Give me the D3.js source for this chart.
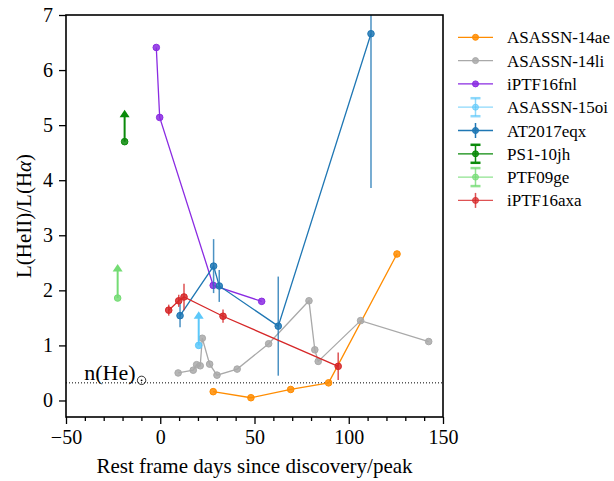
<!DOCTYPE html>
<html>
<head>
<meta charset="utf-8">
<script src="https://cdn.jsdelivr.net/npm/d3@7"></script>
<style>
  body { margin: 0; background: #fff; }
  svg { display: block; }
  svg text { font-family: "Liberation Serif", "DejaVu Serif", serif; }
</style>
</head>
<body>
<div id="figure"></div>
<script>
'use strict';

// ---- data ----
const names = ['ASASSN-14ae', 'ASASSN-14li', 'iPTF16fnl', 'ASASSN-15oi', 'AT2017eqx', 'PS1-10jh', 'PTF09ge', 'iPTF16axa'];
const colors = ['#ff8c00', '#a9a9a9', '#8a2be2', '#5cc8fa', '#1f77b4', '#0a8a0a', '#74dc74', '#d62728'];

const days14ae = [28.1, 48.1, 69.2, 89.3, 125.6];
const ratio14ae = [0.16, 0.05, 0.20, 0.32, 2.66];

const days14li = [9.5, 17.5, 19.3, 21.2, 22.3, 26.2, 30.1, 40.8, 57.5, 78.9, 82.0, 83.8, 106.3, 142.4];
const ratio14li = [0.50, 0.55, 0.65, 0.63, 1.13, 0.66, 0.46, 0.57, 1.03, 1.81, 0.92, 0.71, 1.45, 1.07];

const days16fnl = [-2.1, -0.3, 28.1, 53.8];
const ratio16fnl = [6.41, 5.14, 2.09, 1.80];

const days15oi = [20.4];
const ratio15oi = [1.00];
const limit15oi = [1.62];

const daysEqx = [10.5, 28.3, 31.3, 62.6, 111.8];
const ratioEqx = [1.54, 2.44, 2.08, 1.35, 6.66];
const errEqx = [0.21, 0.49, 0.29, 0.90, 2.80];

const days10jh = [-18.9];
const ratio10jh = [4.70];
const limit10jh = [5.28];

const days09ge = [-22.6];
const ratio09ge = [1.86];
const limit09ge = [2.48];

const days16axa = [4.5, 9.8, 12.6, 33.3, 94.4];
const ratio16axa = [1.64, 1.81, 1.88, 1.53, 0.62];
const err16axa = [0.10, 0.11, 0.24, 0.12, 0.25];

const nHe = 0.32;
const xTicks = [-50, 0, 50, 100, 150];
const yTicks = [0, 1, 2, 3, 4, 5, 6, 7];

const series = [
  { days: days14ae, ratio: ratio14ae, line: true },
  { days: days14li, ratio: ratio14li, line: true },
  { days: days16fnl, ratio: ratio16fnl, line: true },
  { days: days15oi, ratio: ratio15oi, limit: limit15oi, legendErr: 'cap', legendAlpha: 0.7 },
  { days: daysEqx, ratio: ratioEqx, err: errEqx, line: true, legendErr: 'bar' },
  { days: days10jh, ratio: ratio10jh, limit: limit10jh, legendErr: 'cap' },
  { days: days09ge, ratio: ratio09ge, limit: limit09ge, legendErr: 'cap', legendAlpha: 0.8 },
  { days: days16axa, ratio: ratio16axa, err: err16axa, line: true, legendErr: 'bar', legendAlpha: 0.8 },
].map((s, i) => ({ ...s, name: names[i], color: colors[i] }));

// ---- layout ----
const width = 614, height = 481;
const margin = { left: 66, right: 171, top: 15, bottom: 64 };
const serif = '"Liberation Serif", "DejaVu Serif", serif';

const x = d3.scaleLinear().domain([-50, 150]).range([margin.left, width - margin.right]);
const y = d3.scaleLinear().domain([-0.3, 7]).range([height - margin.bottom, margin.top]);

const svg = d3.select('#figure').append('svg')
  .attr('width', width)
  .attr('height', height)
  .attr('viewBox', [0, 0, width, height]);

svg.append('defs').append('clipPath').attr('id', 'clip')
  .append('rect')
  .attr('x', margin.left).attr('y', margin.top)
  .attr('width', x.range()[1] - margin.left)
  .attr('height', y.range()[0] - margin.top);

const plot = svg.append('g').attr('clip-path', 'url(#clip)');

// n(He) reference line
plot.append('line')
  .attr('x1', x.range()[0]).attr('x2', x.range()[1])
  .attr('y1', y(nHe)).attr('y2', y(nHe))
  .attr('stroke', '#000').attr('stroke-width', 1)
  .attr('stroke-dasharray', '1,2');

svg.append('text')
  .attr('x', x(-40.3))
  .attr('y', y(nHe) - 2.5)
  .attr('font-family', serif)
  .attr('font-size', 22)
  .text('n(He)');
// solar symbol as a subscript
const sun = svg.append('g').attr('transform', `translate(${x(-9.9)}, ${y(nHe) - 2.5})`);
sun.append('circle').attr('r', 4.2).attr('fill', 'none').attr('stroke', '#000').attr('stroke-width', 0.8);
sun.append('circle').attr('r', 0.9).attr('fill', '#000');

const line = d3.line().x(d => x(d[0])).y(d => y(d[1]));

for (const s of series) {
  const pts = d3.zip(s.days, s.ratio);
  const g = plot.append('g');

  if (s.line) {
    g.append('path')
      .datum(pts)
      .attr('fill', 'none')
      .attr('stroke', s.color)
      .attr('stroke-width', 1.3)
      .attr('d', line);
  }

  if (s.err) {
    g.selectAll('line.err')
      .data(d3.zip(s.days, s.ratio, s.err))
      .join('line')
      .attr('x1', d => x(d[0])).attr('x2', d => x(d[0]))
      .attr('y1', d => y(d[1] - d[2])).attr('y2', d => y(d[1] + d[2]))
      .attr('stroke', s.color)
      .attr('stroke-opacity', 0.8)
      .attr('stroke-width', 1.5);
  }

  if (s.limit) {
    const lim = d3.zip(s.days, s.ratio, s.limit);
    g.selectAll('line.lim')
      .data(lim)
      .join('line')
      .attr('x1', d => x(d[0])).attr('x2', d => x(d[0]))
      .attr('y1', d => y(d[1])).attr('y2', d => y(d[2]) + 6)
      .attr('stroke', s.color)
      .attr('stroke-width', 2);
    g.selectAll('path.head')
      .data(lim)
      .join('path')
      .attr('d', d => {
        const cx = x(d[0]), ty = y(d[2]);
        return `M${cx},${ty} L${cx - 5},${ty + 7.5} L${cx + 5},${ty + 7.5} Z`;
      })
      .attr('fill', s.color);
  }

  g.selectAll('circle')
    .data(pts)
    .join('circle')
    .attr('cx', d => x(d[0]))
    .attr('cy', d => y(d[1]))
    .attr('r', 3.3)
    .attr('fill', s.color)
    .attr('fill-opacity', 0.85)
    .attr('stroke', s.color)
    .attr('stroke-width', 1);
}

// ---- axes ----
svg.append('g')
  .attr('transform', `translate(0, ${y.range()[0]})`)
  .call(d3.axisBottom(x).tickValues(xTicks).tickSize(7).tickPadding(6)
    .tickFormat(d => d < 0 ? '\u2212' + Math.abs(d) : d));
svg.append('g')
  .attr('transform', `translate(0, ${y.range()[0]})`)
  .call(d3.axisBottom(x).tickValues(d3.range(-50, 151, 10).filter(v => v % 50 !== 0)).tickSize(4).tickFormat(''));

svg.append('g')
  .attr('transform', `translate(${x.range()[0]}, 0)`)
  .call(d3.axisLeft(y).tickValues(yTicks).tickSize(7).tickPadding(6));

svg.selectAll('.tick text')
  .attr('font-family', serif)
  .attr('font-size', 20)
  .attr('fill', '#000');
svg.selectAll('.tick line').attr('stroke', '#000').attr('stroke-width', 1.3);
svg.selectAll('.domain').remove();

// frame
svg.append('rect')
  .attr('x', x.range()[0]).attr('y', y.range()[1])
  .attr('width', x.range()[1] - x.range()[0])
  .attr('height', y.range()[0] - y.range()[1])
  .attr('fill', 'none')
  .attr('stroke', '#000')
  .attr('stroke-width', 1.6);

// axis labels
svg.append('text')
  .attr('x', (x.range()[0] + x.range()[1]) / 2)
  .attr('y', 473)
  .attr('text-anchor', 'middle')
  .attr('font-family', serif)
  .attr('font-size', 21)
  .text('Rest frame days since discovery/peak');

const yLabel = svg.append('text')
  .attr('transform', `translate(31, ${(y.range()[0] + y.range()[1]) / 2}) rotate(-90)`)
  .attr('text-anchor', 'middle')
  .attr('font-family', serif)
  .attr('font-size', 21)
  .text('L(HeII)/L(H');
yLabel.append('tspan').attr('font-style', 'italic').text('α');
yLabel.append('tspan').text(')');

// ---- legend ----
const legend = svg.append('g').attr('transform', 'translate(458, 37.3)');
series.forEach((s, i) => {
  const row = legend.append('g').attr('transform', `translate(0, ${i * 23.3})`);
  const a = s.legendAlpha ?? 1;
  row.append('line')
    .attr('x1', 0).attr('x2', 35).attr('y1', 0).attr('y2', 0)
    .attr('stroke', s.color).attr('stroke-opacity', a).attr('stroke-width', 1.3);
  if (s.legendErr) {
    const h = s.legendErr === 'cap' ? 9 : 7.5;
    row.append('line')
      .attr('x1', 17.5).attr('x2', 17.5).attr('y1', -h).attr('y2', h)
      .attr('stroke', s.color).attr('stroke-opacity', a).attr('stroke-width', 1.5);
    if (s.legendErr === 'cap') {
      [-h, h].forEach(v => row.append('line')
        .attr('x1', 12.5).attr('x2', 22.5).attr('y1', v).attr('y2', v)
        .attr('stroke', s.color).attr('stroke-opacity', a).attr('stroke-width', 2.5));
    }
  }
  row.append('circle')
    .attr('cx', 17.5).attr('cy', 0).attr('r', 3)
    .attr('fill', s.color).attr('fill-opacity', 0.85 * a)
    .attr('stroke', s.color).attr('stroke-opacity', a);
  row.append('text')
    .attr('x', 49).attr('y', 6)
    .attr('font-family', serif)
    .attr('font-size', 17)
    .text(s.name);
});
</script>
</body>
</html>
